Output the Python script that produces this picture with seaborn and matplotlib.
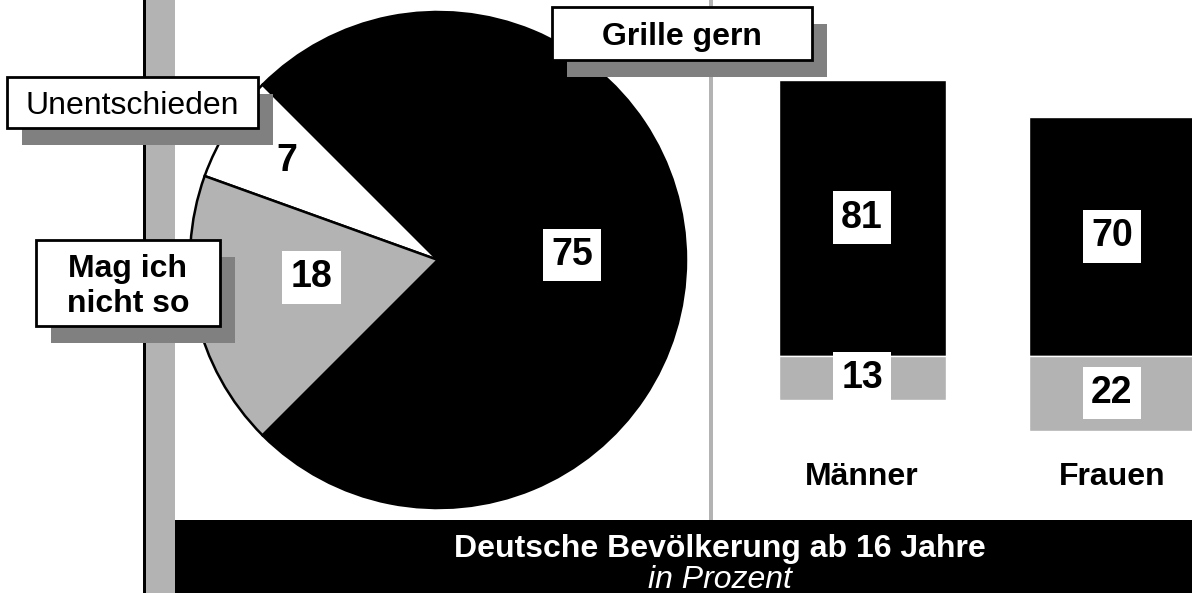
import matplotlib
matplotlib.use("Agg")
import matplotlib.pyplot as plt
from matplotlib.patches import Rectangle
import seaborn as sns

# pie: Deutsche Bevoelkerung gesamt
pie_labels = ["Unentschieden", "Mag ich nicht so", "Grille gern"]
pie_values = [7, 18, 75]
pie_colors = ["white", "#b3b3b3", "black"]

# bars: Maenner / Frauen
groups = ["Männer", "Frauen"]
grill_gern = [81, 70]
mag_nicht = [13, 22]

W, H = 1192, 593
sns.set_theme(style="white")
plt.rcParams["font.family"] = ["Liberation Sans", "DejaVu Sans"]
plt.rcParams["text.color"] = "black"

fig = plt.figure(figsize=(W / 100, H / 100), dpi=100)
fig.patch.set_facecolor("white")


def px_axes(x0, y0, x1, y1):
    # axes from pixel box (top-left origin)
    return fig.add_axes([x0 / W, 1 - y1 / H, (x1 - x0) / W, (y1 - y0) / H])


# background decorations
bg = px_axes(0, 0, W, H)
bg.set_xlim(0, W)
bg.set_ylim(H, 0)
bg.axis("off")
bg.add_patch(Rectangle((143, 0), 3, H, color="black", lw=0))
bg.add_patch(Rectangle((146, 0), 29, H, color="#b3b3b3", lw=0))
bg.add_patch(Rectangle((709, 0), 4, 520, color="#b3b3b3", lw=0))
bg.add_patch(Rectangle((175, 520), W - 175, H - 520, color="black", lw=0))
bg.text(720, 557, "Deutsche Bevölkerung ab 16 Jahre", color="white",
        fontsize=23, fontweight="bold", ha="center", va="baseline")
bg.text(720, 588, "in Prozent", color="white", fontsize=23,
        fontstyle="italic", ha="center", va="baseline")

# pie
ax_pie = px_axes(190, 12, 686, 508)
ax_pie.pie(pie_values, colors=pie_colors, startangle=135, counterclock=True,
           radius=1, wedgeprops=dict(edgecolor="black", linewidth=1.8))
ax_pie.set_xlim(-1, 1)
ax_pie.set_ylim(-1, 1)
ax_pie.set_aspect("equal")
ax_pie.axis("off")

num_kw = dict(fontsize=27, fontweight="bold", ha="center", va="center")
box = dict(boxstyle="square,pad=0.22", facecolor="white", edgecolor="none")
ax_pie.text(0.54, 0.02, str(pie_values[2]), bbox=box, **num_kw)
ax_pie.text(-0.61, 0.40, str(pie_values[0]), **num_kw)
ax_pie.text(-0.51, -0.07, str(pie_values[1]), bbox=box, **num_kw)

# bars
ax_bar = px_axes(700, 49, W, 458)
sns.barplot(x=groups, y=grill_gern, color="black", saturation=1,
            width=0.668, errorbar=None, ax=ax_bar)
sns.barplot(x=groups, y=[-v for v in mag_nicht], color="#b3b3b3",
            saturation=1, width=0.668, errorbar=None, ax=ax_bar)
ax_bar.set_xlim(-0.648, 1.32)
ax_bar.set_ylim(-30, 90)
ax_bar.axis("off")
for i, g in enumerate(groups):
    ax_bar.text(i, grill_gern[i] / 2, str(grill_gern[i]), bbox=box, **num_kw)
    ax_bar.text(i, -mag_nicht[i] / 2, str(mag_nicht[i]), bbox=box, **num_kw)
    ax_bar.text(i, -35.5, g, fontsize=23, fontweight="bold",
                ha="center", va="center")

# callout labels with drop shadows
ov = px_axes(0, 0, W, H)
ov.set_xlim(0, W)
ov.set_ylim(H, 0)
ov.axis("off")


def callout(x0, y0, x1, y1, lines, weight):
    ov.add_patch(Rectangle((x0 + 15, y0 + 17), x1 - x0, y1 - y0,
                           color="#808080", lw=0))
    ov.add_patch(Rectangle((x0, y0), x1 - x0, y1 - y0, facecolor="white",
                           edgecolor="black", lw=2))
    step = 35
    base = (y0 + y1) / 2 + 11.5 - step * (len(lines) - 1) / 2
    for k, line in enumerate(lines):
        ov.text((x0 + x1) / 2, base + k * step, line, fontsize=23,
                fontweight=weight, ha="center", va="baseline")


callout(552, 7, 812, 60, ["Grille gern"], "bold")
callout(7, 77, 258, 128, ["Unentschieden"], "normal")
callout(36, 240, 220, 326, ["Mag ich", "nicht so"], "bold")

fig.savefig("out.png", dpi=100)
